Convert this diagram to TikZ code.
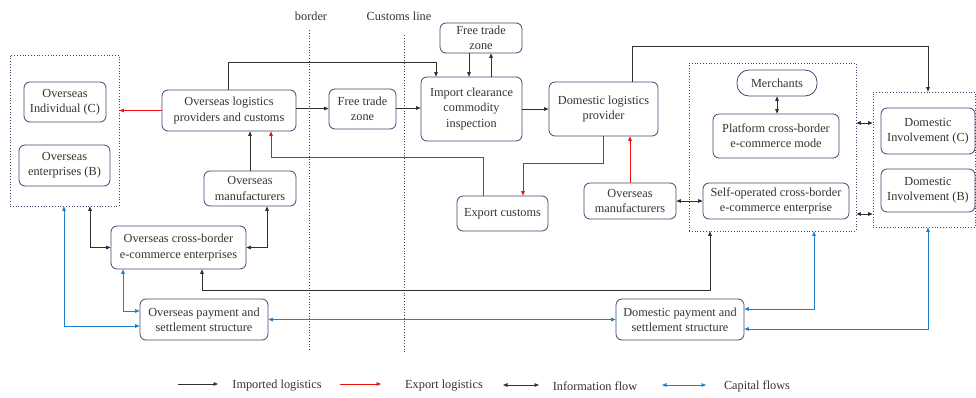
\documentclass[tikz,border=0pt]{standalone}
\usepackage{fontspec}
\setmainfont{Liberation Serif}
\usetikzlibrary{arrows.meta}
\definecolor{boxline}{HTML}{404670}
\definecolor{flowblue}{HTML}{1E80D0}
\definecolor{flowred}{HTML}{F01010}
\definecolor{flowblack}{HTML}{303030}
\begin{document}
\begin{tikzpicture}[x=1pt,y=-1pt,
  font=\fontsize{12.3}{15.3}\selectfont,
  box/.style={draw=boxline,line width=0.8pt,rounded corners=6pt,align=center,
    inner sep=0pt,text=black!80},
  grp/.style={draw=boxline,line width=0.8pt,dotted,inner sep=0pt},
  impflow/.style={draw=flowblack,line width=0.7pt,-{Triangle[length=4.5pt,width=3.6pt]}},
  expflow/.style={draw=flowred,line width=0.7pt,-{Triangle[length=4.5pt,width=3.6pt]}},
  infoflow/.style={draw=flowblack,line width=0.7pt,{Triangle[length=4.5pt,width=3.6pt]}-{Triangle[length=4.5pt,width=3.6pt]}},
  capflow/.style={draw=flowblue,line width=0.7pt,{Triangle[length=4.5pt,width=3.6pt]}-{Triangle[length=4.5pt,width=3.6pt]}},
  sepline/.style={draw=black!75,line width=0.8pt,dotted},
  lbl/.style={text=black!80,inner sep=0pt}]
\useasboundingbox (0,0) rectangle (976,397);

% border and customs line
\node[lbl] (tborder) at (311,16) {border};
\node[lbl] (tcustoms) at (399,16) {Customs line};
\coordinate (b1) at (309,30); \coordinate (b2) at (309,350);
\coordinate (c1) at (404,35); \coordinate (c2) at (404,354);
\draw[sepline] (b1) -- (b2);
\draw[sepline] (c1) -- (c2);

% group frames
\node[grp,minimum width=109,minimum height=151] (gL) at (64.5,130.5) {};
\node[grp,minimum width=167,minimum height=168] (gM) at (772.5,147) {};
\node[grp,minimum width=102.5,minimum height=135] (gR) at (924.25,159.5) {};

% overseas side
\node[box,minimum width=82,minimum height=40] (oic) at (65,102) {Overseas\\Individual (C)};
\node[box,minimum width=91,minimum height=41] (oeb) at (64.5,165.5) {Overseas\\enterprises (B)};
\node[box,minimum width=134,minimum height=41] (olog) at (229,110.5) {Overseas logistics\\providers and customs};
\node[box,minimum width=92,minimum height=35] (omL) at (250,188.5) {Overseas\\manufacturers};
\node[box,minimum width=135,minimum height=43] (oxb) at (178.5,247.5) {Overseas cross-border\\e-commerce enterprises};
\node[box,minimum width=128,minimum height=41] (opay) at (204,319.5) {Overseas payment and\\settlement structure};

% crossing the border
\node[box,minimum width=67,minimum height=40] (ftz) at (362.5,109) {Free trade\\zone};
\node[box,minimum width=101,minimum height=64] (impc) at (471.5,109) {Import clearance\\commodity\\inspection};
\node[box,minimum width=82,minimum height=30] (ftzT) at (481,38) {Free trade\\zone};
\node[box,minimum width=91,minimum height=35] (exc) at (502.5,213.5) {Export customs};

% domestic side
\node[box,minimum width=109,minimum height=54] (dlog) at (603.5,109) {Domestic logistics\\provider};
\node[box,minimum width=92,minimum height=36] (omR) at (630,201) {Overseas\\manufacturers};
\node[box,rounded corners=12pt,minimum width=80,minimum height=26] (merch) at (777,83) {Merchants};
\node[box,minimum width=126,minimum height=44] (plat) at (776,136) {Platform cross-border\\e-commerce mode};
\node[box,minimum width=146,minimum height=36] (self) at (776,201) {Self-operated cross-border\\e-commerce enterprise};
\node[box,minimum width=94,minimum height=46] (dic) at (928,131) {Domestic\\Involvement (C)};
\node[box,minimum width=94,minimum height=43] (dib) at (928,190.5) {Domestic\\Involvement (B)};
\node[box,minimum width=128,minimum height=41] (dpay) at (680,319.5) {Domestic payment and\\settlement structure};

% imported logistics
\draw[impflow] (omL.north) -- (omL.north |- olog.south);
\draw[impflow] ([xshift=-1pt]olog.north) -- ++(0,-27.5) -| ([xshift=-35.5pt]impc.north);
\draw[impflow] ([yshift=2pt]olog.east) -- ([yshift=2pt]olog.east -| ftz.west);
\draw[impflow] ([yshift=1pt]ftz.east) -- ([yshift=1pt]ftz.east -| impc.west);
\draw[impflow] ([xshift=-12pt]ftzT.south) -- ([xshift=-12pt]ftzT.south |- impc.north);
\draw[impflow] ([xshift=19.5pt]impc.north) -- ([xshift=19.5pt]impc.north |- ftzT.south);
\draw[impflow] (impc.east) -- (impc.east -| dlog.west);
\draw[impflow] ([xshift=28.5pt]dlog.north) -- ++(0,-35) -| ([xshift=3.75pt]gR.north);

% export logistics
\draw[expflow] (olog.west) -- (olog.west -| gL.east);
\draw[expflow] ([xshift=-19.5pt]exc.north) -- ++(0,-38) -| ([xshift=42pt]olog.south);
\draw[expflow] (dlog.south) -- ++(0,27) -| ([xshift=20.5pt]exc.north);
\draw[expflow] (omR.north) -- (omR.north |- dlog.south);

% information flow
\draw[infoflow] ([xshift=25.5pt]gL.south) |- (oxb.west);
\draw[infoflow] ([xshift=17pt]omL.south) |- (oxb.east);
\draw[infoflow] ([xshift=23.5pt]oxb.south) -- ++(0,21) -| ([xshift=-62.5pt]gM.south);
\draw[infoflow] (omR.east) -- (omR.east -| self.west);
\draw[infoflow] (merch.south) -- (merch.south |- plat.north);
\draw[infoflow] ([yshift=24pt]gM.east) -- ([yshift=24pt]gM.east -| gR.west);
\draw[infoflow] ([yshift=-67pt]gM.east) -- ([yshift=-67pt]gM.east -| gR.west);

% capital flows
\draw[capflow] (opay.east) -- (opay.east -| dpay.west);
\draw[capflow] ([xshift=-0.5pt]gL.south) |- ([yshift=-6.5pt]opay.west);
\draw[capflow] ([xshift=-55.5pt]oxb.south) |- ([yshift=8.5pt]opay.west);
\draw[capflow] ([yshift=10.5pt]dpay.east) -| ([xshift=41.5pt]gM.south);
\draw[capflow] ([yshift=-9.5pt]dpay.east) -| ([xshift=3.75pt]gR.south);

% legend
\coordinate (l1a) at (178,384); \coordinate (l1b) at (218,384);
\coordinate (l2a) at (340,384); \coordinate (l2b) at (381,384);
\coordinate (l3a) at (503,385); \coordinate (l3b) at (539,385);
\coordinate (l4a) at (662,385); \coordinate (l4b) at (706,385);
\draw[impflow] (l1a) -- (l1b);
\draw[expflow] (l2a) -- (l2b);
\draw[infoflow] (l3a) -- (l3b);
\draw[capflow] (l4a) -- (l4b);
\node[lbl] (t1) at (277,386) {Imported logistics};
\node[lbl] (t2) at (444,386) {Export logistics};
\node[lbl] (t3) at (595,386) {Information flow};
\node[lbl] (t4) at (757,386) {Capital flows};
\end{tikzpicture}
\end{document}
